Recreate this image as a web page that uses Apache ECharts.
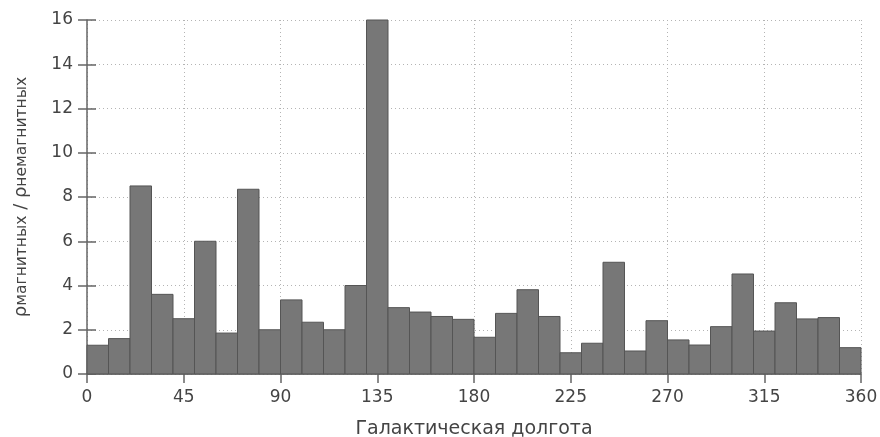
<!DOCTYPE html>
<html>
<head>
<meta charset="utf-8">
<script src="https://cdn.jsdelivr.net/npm/echarts@6/dist/echarts.min.js"></script>
<style>
  html, body { margin: 0; padding: 0; background: #fff; }
  #chart { width: 880px; height: 437px; }
</style>
</head>
<body>
<div id="chart"></div>
<script>
// Left edges of the 10-degree longitude bins
var binStarts = [0, 10, 20, 30, 40, 50, 60, 70, 80, 90, 100, 110,
                 120, 130, 140, 150, 160, 170, 180, 190, 200, 210, 220, 230,
                 240, 250, 260, 270, 280, 290, 300, 310, 320, 330, 340, 350];
var binWidth = 10;
// Density ratio per bin
var ratios = [1.3, 1.6, 8.5, 3.6, 2.5, 6.0, 1.85, 8.35, 2.0, 3.35, 2.34, 2.0,
              4.0, 16.0, 3.0, 2.8, 2.6, 2.47, 1.66, 2.74, 3.81, 2.6, 0.96, 1.39,
              5.05, 1.04, 2.41, 1.54, 1.31, 2.14, 4.52, 1.94, 3.22, 2.49, 2.55, 1.19];
var xTicks = [0, 45, 90, 135, 180, 225, 270, 315, 360];
var yTicks = [0, 2, 4, 6, 8, 10, 12, 14, 16];

var data = binStarts.map(function (s, i) { return [s, s + binWidth, ratios[i]]; });

var textColor = '#444';
var font = 'DejaVu Sans';
var borderColor = '#666';
var gridLine = { show: true, lineStyle: { color: '#b4b4b4', type: [1, 3], width: 1 } };

var chart = echarts.init(document.getElementById('chart'), null, { renderer: 'canvas' });
chart.setOption({
  animation: false,
  backgroundColor: '#fff',
  grid: { left: 87, right: 19, top: 20, bottom: 63, containLabel: false, outerBoundsMode: 'none' },
  xAxis: [{
    type: 'value', min: xTicks[0], max: xTicks[xTicks.length - 1], interval: 45,
    position: 'bottom',
    axisLine: { show: true, onZero: false, lineStyle: { color: borderColor, width: 1.5 } },
    axisTick: { show: false },
    axisLabel: { color: textColor, fontFamily: font, fontSize: 17, margin: 15 },
    splitLine: gridLine,
    name: 'Галактическая долгота', nameLocation: 'middle', nameGap: 46,
    nameTextStyle: { color: textColor, fontFamily: font, fontSize: 19 }
  }, {
    type: 'value', min: xTicks[0], max: xTicks[xTicks.length - 1], interval: 45,
    position: 'top',
    axisLine: { show: false },
    axisTick: { show: true, inside: true, length: 9, lineStyle: { color: borderColor, width: 1.5 } },
    axisLabel: { show: false },
    splitLine: { show: false }
  }],
  yAxis: [{
    type: 'value', min: yTicks[0], max: yTicks[yTicks.length - 1], interval: 2,
    position: 'left',
    axisLine: { show: true, onZero: false, lineStyle: { color: borderColor, width: 1.5 } },
    axisTick: { show: true, inside: true, length: 9, lineStyle: { color: borderColor, width: 1.5 } },
    axisLabel: { color: textColor, fontFamily: font, fontSize: 17, margin: 14 },
    splitLine: gridLine,
    name: '{r|ρ}{s|магнитных}{r| / ρ}{s|немагнитных}',
    nameLocation: 'middle', nameGap: 57, nameRotate: 90,
    nameTextStyle: {
      color: textColor, fontFamily: font, fontSize: 18,
      rich: {
        r: { color: textColor, fontFamily: font, fontSize: 18, lineHeight: 22, verticalAlign: 'bottom' },
        s: { color: textColor, fontFamily: font, fontSize: 15.5, lineHeight: 17, verticalAlign: 'bottom' }
      }
    }
  }, {
    type: 'value', min: yTicks[0], max: yTicks[yTicks.length - 1], interval: 2,
    position: 'right',
    axisLine: { show: false },
    axisTick: { show: true, inside: true, length: 9, lineStyle: { color: borderColor, width: 1.5 } },
    axisLabel: { show: false },
    splitLine: { show: false }
  }],
  series: [{
    type: 'custom',
    xAxisIndex: 0, yAxisIndex: 0,
    z: 3,
    data: data,
    encode: { x: [0, 1], y: 2 },
    renderItem: function (params, api) {
      var p0 = api.coord([api.value(0), 0]);
      var p1 = api.coord([api.value(1), api.value(2)]);
      return {
        type: 'rect',
        shape: { x: p0[0], y: p1[1], width: p1[0] - p0[0], height: p0[1] - p1[1] },
        style: { fill: '#777777', stroke: '#555555', lineWidth: 1 }
      };
    }
  }]
});
</script>
</body>
</html>
